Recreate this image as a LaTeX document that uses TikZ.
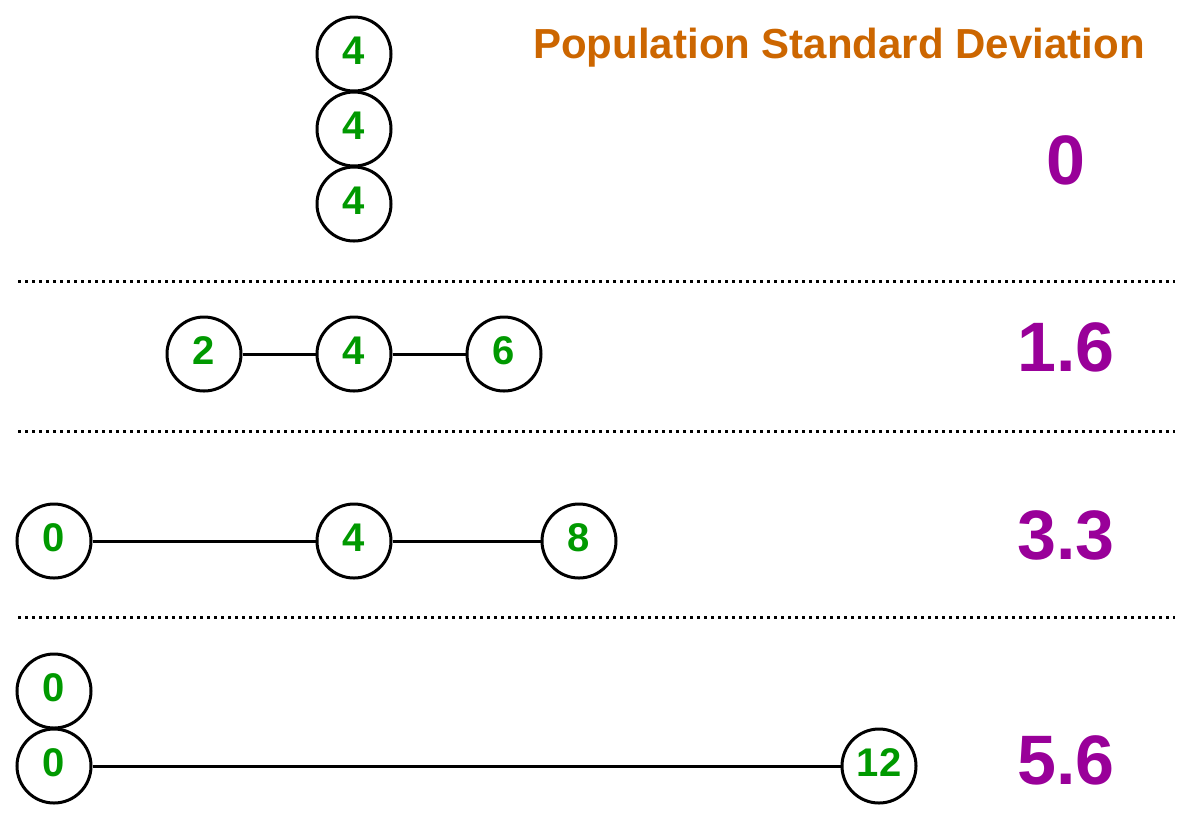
\documentclass[tikz,border=0pt]{standalone}
\usepackage{fontspec}
\setmainfont{Liberation Sans}
\definecolor{numg}{HTML}{009900}
\definecolor{sdp}{HTML}{990099}
\definecolor{ttl}{HTML}{CC6600}
\begin{document}
\begin{tikzpicture}[x=0.5pt,y=-0.5pt,
  val/.style={circle,draw,line width=1.5pt,minimum size=37pt,inner sep=0pt,text=numg,font=\bfseries\fontsize{20}{20}\selectfont},
  sd/.style={text=sdp,font=\bfseries\fontsize{35}{35}\selectfont},
  sep/.style={line width=1.5pt,dotted},
  link/.style={line width=1.5pt}]
\useasboundingbox (0,0) rectangle (1193,816);
\node[font=\bfseries\fontsize{21}{21}\selectfont,text=ttl] (title) at (839,48) {Population Standard Deviation};
\node[val] (a1) at (354,54) {\raisebox{3pt}{4}};
\node[val] (a2) at (354,129) {\raisebox{3pt}{4}};
\node[val] (a3) at (354,204) {\raisebox{3pt}{4}};
\node[sd] (s1) at (1066,160) {0};
\coordinate (l1a) at (18,281); \coordinate (l1b) at (1175,281);
\draw[sep] (l1a) -- (l1b);
\node[val] (b1) at (204,354) {\raisebox{3pt}{2}};
\node[val] (b2) at (354,354) {\raisebox{3pt}{4}};
\node[val] (b3) at (504,354) {\raisebox{3pt}{6}};
\draw[link] (b1) -- (b2); \draw[link] (b2) -- (b3);
\node[sd] (s2) at (1066,347) {1.6};
\coordinate (l2a) at (18,431); \coordinate (l2b) at (1175,431);
\draw[sep] (l2a) -- (l2b);
\node[val] (c1) at (54,541) {\raisebox{3pt}{0}};
\node[val] (c2) at (354,541) {\raisebox{3pt}{4}};
\node[val] (c3) at (579,541) {\raisebox{3pt}{8}};
\draw[link] (c1) -- (c2); \draw[link] (c2) -- (c3);
\node[sd] (s3) at (1066,535) {3.3};
\coordinate (l3a) at (18,617); \coordinate (l3b) at (1175,617);
\draw[sep] (l3a) -- (l3b);
\node[val] (d1) at (54,691) {\raisebox{3pt}{0}};
\node[val] (d2) at (54,766) {\raisebox{3pt}{0}};
\node[val] (d3) at (879,766) {\raisebox{3pt}{12}};
\draw[link] (d2) -- (d3);
\node[sd] (s4) at (1066,760) {5.6};
\end{tikzpicture}
\end{document}
